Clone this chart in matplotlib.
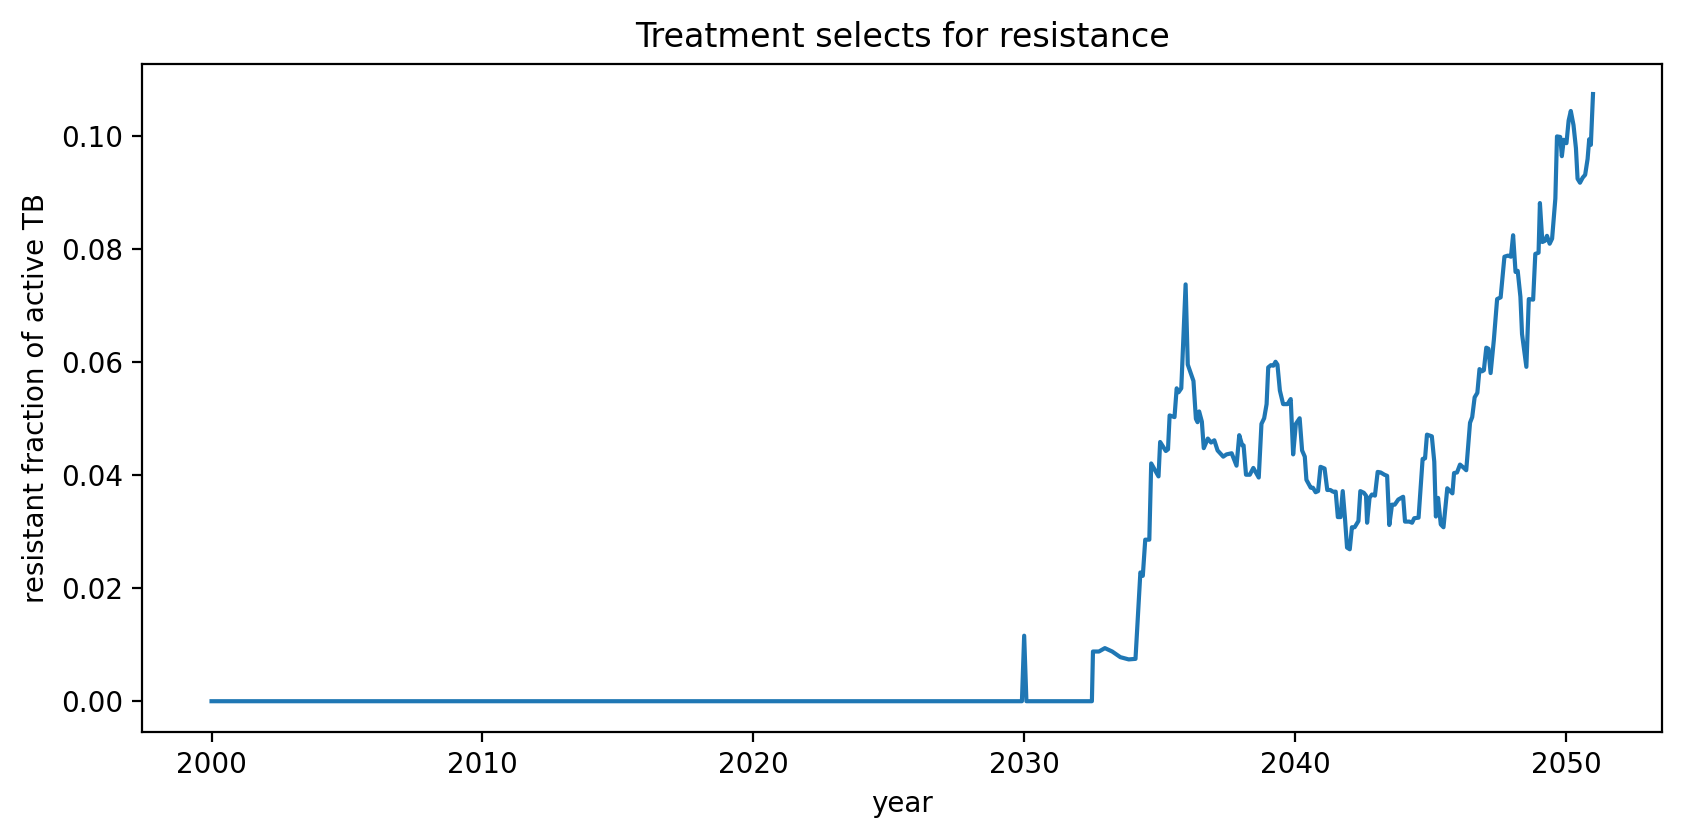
import matplotlib
matplotlib.use("Agg")
import matplotlib.pyplot as plt

# resistant fraction of active TB
years = [
    2000.0, 2029.917, 2030.0, 2030.083, 2032.5,
    2032.54, 2032.76, 2032.98, 2033.25, 2033.55, 2033.86, 2034.11, 2034.29,
    2034.38, 2034.47, 2034.62, 2034.69, 2034.96, 2035.02, 2035.23, 2035.31,
    2035.37, 2035.55, 2035.63, 2035.70, 2035.80, 2035.96, 2036.04, 2036.25,
    2036.34, 2036.40, 2036.46, 2036.56, 2036.63, 2036.78, 2036.90, 2037.02,
    2037.14, 2037.35, 2037.47, 2037.66, 2037.84, 2037.94, 2038.05, 2038.10,
    2038.19, 2038.33, 2038.46, 2038.66, 2038.76, 2038.86, 2038.95, 2039.01,
    2039.11, 2039.20, 2039.28, 2039.35, 2039.44, 2039.56, 2039.72, 2039.84,
    2039.93, 2040.03, 2040.17, 2040.26, 2040.36, 2040.42, 2040.58, 2040.66,
    2040.76, 2040.85, 2040.94, 2041.09, 2041.19, 2041.30, 2041.40, 2041.50,
    2041.58, 2041.68, 2041.76, 2041.84, 2041.92, 2042.02, 2042.10, 2042.20,
    2042.34, 2042.41, 2042.54, 2042.62, 2042.66, 2042.75, 2042.84, 2042.95,
    2043.05, 2043.16, 2043.30, 2043.40, 2043.48, 2043.58, 2043.68, 2043.81,
    2043.99, 2044.06, 2044.22, 2044.32, 2044.40, 2044.56, 2044.71, 2044.80,
    2044.87, 2045.05, 2045.14, 2045.20, 2045.28, 2045.38, 2045.48, 2045.62,
    2045.81, 2045.87, 2045.98, 2046.09, 2046.21, 2046.32, 2046.46, 2046.54,
    2046.63, 2046.73, 2046.81, 2046.90, 2046.97, 2047.06, 2047.14, 2047.22,
    2047.34, 2047.46, 2047.59, 2047.73, 2047.86, 2047.97, 2048.05, 2048.14,
    2048.22, 2048.32, 2048.38, 2048.54, 2048.63, 2048.79, 2048.87, 2048.99,
    2049.04, 2049.13, 2049.22, 2049.30, 2049.40, 2049.49, 2049.61, 2049.67,
    2049.79, 2049.85, 2049.92, 2050.02, 2050.10, 2050.18, 2050.28, 2050.37,
    2050.43, 2050.52, 2050.62, 2050.71, 2050.80, 2050.86, 2050.92, 2051.00,
]
resistant_frac = [
    0.0, 0.0, 0.0116, 0.0, 0.0,
    0.0088, 0.0088, 0.0094, 0.0088, 0.0078, 0.0074, 0.0075, 0.0228,
    0.0222, 0.0286, 0.0286, 0.0421, 0.0398, 0.0459, 0.0443, 0.0446,
    0.0506, 0.0503, 0.0554, 0.0547, 0.0554, 0.0738, 0.0596, 0.0567,
    0.0500, 0.0494, 0.0513, 0.0495, 0.0448, 0.0465, 0.0458, 0.0462,
    0.0444, 0.0433, 0.0437, 0.0439, 0.0417, 0.0471, 0.0453, 0.0453,
    0.0401, 0.0401, 0.0413, 0.0396, 0.0491, 0.0501, 0.0526, 0.0591,
    0.0595, 0.0594, 0.0601, 0.0596, 0.0550, 0.0526, 0.0526, 0.0535,
    0.0437, 0.0491, 0.0501, 0.0444, 0.0433, 0.0392, 0.0378, 0.0378,
    0.0370, 0.0372, 0.0415, 0.0412, 0.0374, 0.0374, 0.0371, 0.0371,
    0.0326, 0.0326, 0.0372, 0.0326, 0.0272, 0.0269, 0.0308, 0.0308,
    0.0319, 0.0372, 0.0369, 0.0364, 0.0316, 0.0360, 0.0366, 0.0364,
    0.0406, 0.0405, 0.0401, 0.0399, 0.0312, 0.0348, 0.0348, 0.0357,
    0.0362, 0.0318, 0.0318, 0.0316, 0.0324, 0.0325, 0.0429, 0.0430,
    0.0472, 0.0469, 0.0424, 0.0327, 0.0360, 0.0313, 0.0308, 0.0377,
    0.0368, 0.0404, 0.0405, 0.0419, 0.0414, 0.0409, 0.0493, 0.0503,
    0.0538, 0.0546, 0.0588, 0.0584, 0.0586, 0.0626, 0.0624, 0.0581,
    0.0640, 0.0712, 0.0715, 0.0787, 0.0789, 0.0787, 0.0825, 0.0760,
    0.0762, 0.0716, 0.0650, 0.0592, 0.0712, 0.0711, 0.0792, 0.0794,
    0.0882, 0.0813, 0.0815, 0.0824, 0.0810, 0.0819, 0.0890, 0.1000,
    0.0999, 0.0965, 0.0994, 0.0988, 0.1028, 0.1045, 0.1020, 0.0979,
    0.0925, 0.0918, 0.0927, 0.0932, 0.0960, 0.0995, 0.0985, 0.1075,
]

fig = plt.figure(figsize=(8.48, 4.19), dpi=200)
fig.subplots_adjust(left=0.084, right=0.980, bottom=0.127, top=0.924)
ax = fig.add_subplot(111)

ax.plot(years, resistant_frac)
ax.set_title("Treatment selects for resistance")
ax.set_xlabel("year")
ax.set_ylabel("resistant fraction of active TB")

fig.savefig("out.png", dpi=200)
